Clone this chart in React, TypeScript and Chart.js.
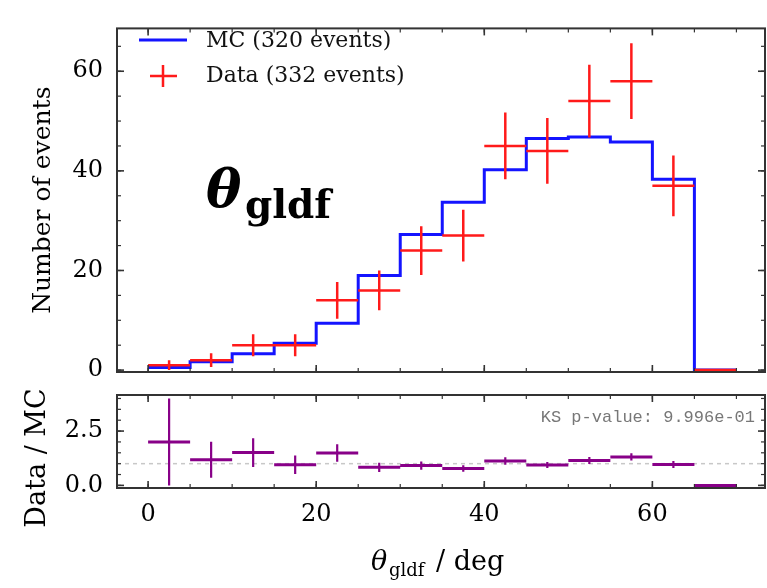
import React, { useEffect, useRef } from "react";
import { Chart, registerables } from "chart.js";

Chart.register(...registerables);

// ---------------- data ----------------
const binEdges = [0, 5, 10, 15, 20, 25, 30, 35, 40, 45, 50, 55, 60, 65, 70];
const mcCounts = [0.5, 1.7, 3.3, 5.4, 9.4, 19.0, 27.2, 33.7, 40.2, 46.5, 46.8, 45.8, 38.3, 0];
const dataCounts = [1, 2, 5, 5, 14, 16, 24, 27, 45, 44, 54, 58, 37, 0];
const dataErrors = [1.0, 1.4, 2.2, 2.2, 3.7, 4.0, 4.9, 5.2, 6.7, 6.6, 7.3, 7.6, 6.1, 0];
const ratioValues = [2.0, 1.18, 1.51, 0.95, 1.49, 0.83, 0.91, 0.78, 1.12, 0.94, 1.15, 1.31, 0.96, 0];
const ratioErrors = [2.0, 0.83, 0.66, 0.42, 0.4, 0.21, 0.19, 0.15, 0.17, 0.14, 0.16, 0.17, 0.16, 0];

const xMajorTicks = [0, 20, 40, 60];
const xMinorTicks = [0, 5, 10, 15, 20, 25, 30, 35, 40, 45, 50, 55, 60, 65, 70];
const countMajorTicks = [0, 20, 40, 60];
const countMinorTicks = [0, 5, 10, 15, 20, 25, 30, 35, 40, 45, 50, 55, 60, 65];
const ratioMajorTicks = [0, 2.5];
const ratioMinorTicks = [0, 0.5, 1, 1.5, 2, 2.5, 3, 3.5, 4];
const ratioReference = 1;

const legendLabels = ["MC (320 events)", "Data (332 events)"];
const ksLabel = "KS p-value: 9.996e-01";
const countAxisTitle = "Number of events";
const ratioAxisTitle = "Data / MC";
const varSymbol = "θ";
const varSubscript = "gldf";
const xUnitText = "/ deg";

// ---------------- styles ----------------
const SERIF = "'DejaVu Serif', serif";
const MC_COLOR = "#1414ff";
const DATA_COLOR = "#ff1a1a";
const RATIO_COLOR = "#880088";
const FRAME_COLOR = "#333333";
const X_MIN = -3.7;
const X_MAX = 73.4;

// ---------------- helpers ----------------
function stepPoints(edges: number[], vals: number[]) {
  return edges.map((e, i) => ({ x: e, y: i < vals.length ? vals[i] : vals[vals.length - 1] }));
}
function hBars(edges: number[], vals: number[]) {
  const pts: any[] = [];
  vals.forEach((v, i) => {
    pts.push({ x: edges[i], y: v }, { x: edges[i + 1], y: v }, { x: edges[i + 1], y: null });
  });
  return pts;
}
function vBars(edges: number[], vals: number[], errs: number[]) {
  const pts: any[] = [];
  vals.forEach((v, i) => {
    if (!errs[i]) return;
    const c = (edges[i] + edges[i + 1]) / 2;
    pts.push({ x: c, y: v - errs[i] }, { x: c, y: v + errs[i] }, { x: c, y: null });
  });
  return pts;
}

type TickSpec = { xMajor: number[]; xMinor: number[]; yMajor: number[]; yMinor: number[] };

function framePlugin(id: string, spec: TickSpec, extra: (ctx: CanvasRenderingContext2D, chart: any) => void) {
  return {
    id,
    afterDraw(chart: any) {
      const { ctx, chartArea: a, scales } = chart;
      const xs = scales.x;
      const ys = scales.y;
      ctx.save();
      ctx.strokeStyle = FRAME_COLOR;
      const seg = (x1: number, y1: number, x2: number, y2: number) => {
        ctx.beginPath();
        ctx.moveTo(x1, y1);
        ctx.lineTo(x2, y2);
        ctx.stroke();
      };
      const xt = (vals: number[], len: number) =>
        vals.forEach((v) => {
          const p = xs.getPixelForValue(v);
          seg(p, a.bottom, p, a.bottom - len);
          seg(p, a.top, p, a.top + len);
        });
      const yt = (vals: number[], len: number) =>
        vals.forEach((v) => {
          const p = ys.getPixelForValue(v);
          seg(a.left, p, a.left + len, p);
          seg(a.right, p, a.right - len, p);
        });
      ctx.lineWidth = 1.2;
      xt(spec.xMinor, 4);
      yt(spec.yMinor, 4);
      ctx.lineWidth = 1.6;
      xt(spec.xMajor, 7);
      yt(spec.yMajor, 7);
      ctx.lineWidth = 2;
      ctx.strokeRect(a.left, a.top, a.right - a.left, a.bottom - a.top);
      ctx.restore();
      ctx.save();
      extra(ctx, chart);
      ctx.restore();
    },
  };
}

function fixedTicks(vals: number[]) {
  return (scale: any) => {
    scale.ticks = vals.map((v) => ({ value: v }));
  };
}

export default function App() {
  const topRef = useRef<HTMLCanvasElement | null>(null);
  const botRef = useRef<HTMLCanvasElement | null>(null);

  useEffect(() => {
    const topCanvas = topRef.current!;
    const botCanvas = botRef.current!;

    const topChart = new Chart(topCanvas, {
      type: "line",
      data: {
        datasets: [
          {
            data: vBars(binEdges, dataCounts, dataErrors),
            borderColor: DATA_COLOR,
            borderWidth: 2.5,
            pointRadius: 0,
            spanGaps: false,
          },
          {
            data: hBars(binEdges, dataCounts),
            borderColor: DATA_COLOR,
            borderWidth: 2.5,
            pointRadius: 0,
            spanGaps: false,
          },
          {
            data: stepPoints(binEdges, mcCounts),
            borderColor: MC_COLOR,
            borderWidth: 3,
            pointRadius: 0,
            stepped: true,
          },
        ] as any,
      },
      options: {
        responsive: false,
        animation: false,
        devicePixelRatio: 1,
        layout: { padding: { top: 9, right: 2, left: 0, bottom: 216 } },
        plugins: { legend: { display: false }, tooltip: { enabled: false } },
        scales: {
          x: {
            type: "linear",
            min: X_MIN,
            max: X_MAX,
            display: false,
            afterBuildTicks: fixedTicks(xMajorTicks),
          },
          y: {
            type: "linear",
            min: -0.38,
            max: 68.6,
            afterBuildTicks: fixedTicks(countMajorTicks),
            afterFit: (s: any) => {
              s.width = 117;
            },
            grid: { display: false, drawTicks: false },
            border: { display: false },
            ticks: {
              color: "#000",
              padding: 14,
              font: { family: SERIF, size: 24 },
              callback: (v: any) => String(v),
            },
            title: {
              display: true,
              text: countAxisTitle,
              color: "#000",
              font: { family: SERIF, size: 25 },
              padding: { top: 28, bottom: 0 },
            },
          },
        },
      } as any,
      plugins: [
        framePlugin(
          "topFrame",
          { xMajor: xMajorTicks, xMinor: xMinorTicks, yMajor: countMajorTicks, yMinor: countMinorTicks },
          (ctx) => {
            // legend
            ctx.strokeStyle = MC_COLOR;
            ctx.lineWidth = 3;
            ctx.beginPath();
            ctx.moveTo(139, 40);
            ctx.lineTo(187, 40);
            ctx.stroke();
            ctx.strokeStyle = DATA_COLOR;
            ctx.lineWidth = 2.5;
            ctx.beginPath();
            ctx.moveTo(150, 76);
            ctx.lineTo(177, 76);
            ctx.moveTo(163, 65);
            ctx.lineTo(163, 87);
            ctx.stroke();
            ctx.fillStyle = "#111";
            ctx.font = `22px ${SERIF}`;
            ctx.textBaseline = "middle";
            ctx.textAlign = "left";
            ctx.fillText(legendLabels[0], 206, 41);
            ctx.fillText(legendLabels[1], 206, 76);
            // big annotation
            ctx.fillStyle = "#000";
            ctx.textBaseline = "alphabetic";
            ctx.font = `italic bold 53px ${SERIF}`;
            ctx.fillText(varSymbol, 206, 207);
            ctx.font = `bold 39px ${SERIF}`;
            ctx.fillText(varSubscript, 245, 218);
          }
        ),
      ],
    });

    const botChart = new Chart(botCanvas, {
      type: "line",
      data: {
        datasets: [
          {
            data: vBars(binEdges, ratioValues, ratioErrors),
            borderColor: RATIO_COLOR,
            borderWidth: 2.2,
            pointRadius: 0,
            spanGaps: false,
          },
          {
            data: hBars(binEdges, ratioValues),
            borderColor: RATIO_COLOR,
            borderWidth: 3,
            pointRadius: 0,
            spanGaps: false,
          },
          {
            data: [
              { x: X_MIN, y: ratioReference },
              { x: X_MAX, y: ratioReference },
            ],
            borderColor: "#c8c8c8",
            borderWidth: 1.5,
            borderDash: [4, 4],
            pointRadius: 0,
          },
        ] as any,
      },
      options: {
        responsive: false,
        animation: false,
        devicePixelRatio: 1,
        layout: { padding: { top: 395, right: 2, left: 0, bottom: 0 } },
        plugins: { legend: { display: false }, tooltip: { enabled: false } },
        scales: {
          x: {
            type: "linear",
            min: X_MIN,
            max: X_MAX,
            afterBuildTicks: fixedTicks(xMajorTicks),
            afterFit: (s: any) => {
              s.height = 100;
            },
            grid: { display: false, drawTicks: false },
            border: { display: false },
            ticks: {
              color: "#000",
              padding: 12,
              maxRotation: 0,
              font: { family: SERIF, size: 24 },
              callback: (v: any) => String(v),
            },
          },
          y: {
            type: "linear",
            min: -0.12,
            max: 4.16,
            afterBuildTicks: fixedTicks(ratioMajorTicks),
            afterFit: (s: any) => {
              s.width = 117;
            },
            grid: { display: false, drawTicks: false },
            border: { display: false },
            ticks: {
              color: "#000",
              padding: 14,
              font: { family: SERIF, size: 24 },
              callback: (v: any) => Number(v).toFixed(1),
            },
          },
        },
      } as any,
      plugins: [
        framePlugin(
          "botFrame",
          { xMajor: xMajorTicks, xMinor: xMinorTicks, yMajor: ratioMajorTicks, yMinor: ratioMinorTicks },
          (ctx) => {
            ctx.fillStyle = "#777";
            ctx.font = `17px 'Liberation Mono', monospace`;
            ctx.textAlign = "right";
            ctx.textBaseline = "middle";
            ctx.fillText(ksLabel, 755, 417);

            ctx.save();
            ctx.fillStyle = "#000";
            ctx.translate(38, 458);
            ctx.rotate(-Math.PI / 2);
            ctx.textAlign = "center";
            ctx.textBaseline = "middle";
            ctx.font = `27px ${SERIF}`;
            ctx.fillText(ratioAxisTitle, 0, 0);
            ctx.restore();

            ctx.fillStyle = "#000";
            ctx.textAlign = "left";
            ctx.textBaseline = "alphabetic";
            ctx.font = `italic 27px ${SERIF}`;
            ctx.fillText(varSymbol, 371, 570);
            ctx.font = `18px ${SERIF}`;
            ctx.fillText(varSubscript, 389, 576);
            ctx.font = `27px ${SERIF}`;
            ctx.fillText(xUnitText, 436, 570);
          }
        ),
      ],
    });

    return () => {
      topChart.destroy();
      botChart.destroy();
    };
  }, []);

  const canvasStyle: React.CSSProperties = { position: "absolute", left: 0, top: 0 };
  return (
    <div style={{ position: "absolute", left: 0, top: 0, width: 767, height: 588, background: "#fff" }}>
      <canvas ref={topRef} width={767} height={588} style={canvasStyle} />
      <canvas ref={botRef} width={767} height={588} style={canvasStyle} />
    </div>
  );
}
